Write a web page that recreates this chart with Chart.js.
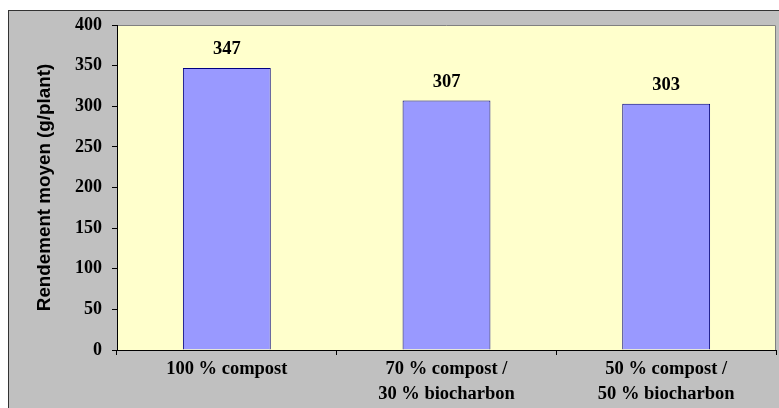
<!DOCTYPE html>
<html>
<head>
<meta charset="utf-8">
<script src="https://cdn.jsdelivr.net/npm/chart.js@4.4.1/dist/chart.umd.min.js"></script>
<style>
  html, body { margin: 0; padding: 0; background: #ffffff; }
  #wrap { width: 779px; height: 408px; }
</style>
</head>
<body>
<div id="wrap"><canvas id="chart" width="779" height="408"></canvas></div>
<script>
// données
const categories = [
	['100 % compost'],
	['70 % compost /', '30 % biocharbon'],
	['50 % compost /', '50 % biocharbon']
];
const rendement = [347, 307, 303];
const yTicks = [0, 50, 100, 150, 200, 250, 300, 350, 400];

const serif = '"Times New Roman", "Liberation Serif", serif';

// fond gris + cadre + bordure haute/droite de la zone de tracé
const framePlugin = {
	id: 'frame',
	beforeDraw(chart) {
		const ctx = chart.ctx;
		const a = chart.chartArea;
		ctx.save();
		ctx.fillStyle = '#ffffff';
		ctx.fillRect(0, 0, chart.width, chart.height);
		ctx.fillStyle = '#c0c0c0';
		ctx.fillRect(8, 10, chart.width - 8, chart.height - 10);
		ctx.strokeStyle = '#333333';
		ctx.lineWidth = 1;
		ctx.strokeRect(8.5, 10.5, chart.width + 10, chart.height + 10);
		ctx.fillStyle = '#ffffcc';
		ctx.fillRect(a.left, a.top, a.right - a.left, a.bottom - a.top);
		ctx.strokeStyle = '#808080';
		ctx.beginPath();
		ctx.moveTo(a.left, a.top + 0.5);
		ctx.lineTo(a.right - 0.5, a.top + 0.5);
		ctx.lineTo(a.right - 0.5, a.bottom);
		ctx.stroke();
		ctx.restore();
	}
};

// valeurs au-dessus des barres
const valueLabels = {
	id: 'valueLabels',
	afterDatasetsDraw(chart) {
		const ctx = chart.ctx;
		const meta = chart.getDatasetMeta(0);
		ctx.save();
		ctx.font = 'bold 18.5px ' + serif;
		ctx.fillStyle = '#000000';
		ctx.textAlign = 'center';
		ctx.textBaseline = 'alphabetic';
		meta.data.forEach((bar, i) => {
			ctx.fillText(String(rendement[i]), bar.x, bar.y - 14);
		});
		ctx.restore();
	}
};

new Chart(document.getElementById('chart'), {
	type: 'bar',
	data: {
		labels: categories,
		datasets: [{
			data: rendement,
			backgroundColor: '#9999ff',
			borderColor: '#000080',
			borderWidth: 1,
			categoryPercentage: 1,
			barPercentage: 0.4
		}]
	},
	options: {
		responsive: false,
		animation: false,
		layout: { padding: { top: 25, right: 3, left: 0, bottom: 0 } },
		plugins: {
			legend: { display: false },
			tooltip: { enabled: false }
		},
		scales: {
			x: {
				grid: {
					display: true,
					drawOnChartArea: false,
					drawTicks: true,
					tickLength: 5,
					color: '#000000',
					offset: true
				},
				border: { display: true, color: '#000000' },
				ticks: {
					color: '#000000',
					font: { family: serif, size: 18.5, weight: 'bold', lineHeight: 1.35 },
					padding: 2,
					maxRotation: 0,
					autoSkip: false
				},
				afterFit(scale) { scale.height = 58; }
			},
			y: {
				min: 0,
				max: 400,
				afterBuildTicks(scale) { scale.ticks = yTicks.map(v => ({ value: v })); },
				grid: {
					display: true,
					drawOnChartArea: false,
					drawTicks: true,
					tickLength: 5,
					color: '#000000'
				},
				border: { display: true, color: '#000000' },
				ticks: {
					color: '#000000',
					font: { family: serif, size: 18, weight: 'bold' },
					padding: 10
				},
				title: {
					display: true,
					text: 'Rendement moyen (g/plant)',
					color: '#000000',
					font: { family: 'Arial, "Liberation Sans", sans-serif', size: 18.8, weight: 'bold' },
					padding: { top: 34, bottom: 0 }
				},
				afterFit(scale) { scale.width = 117; }
			}
		}
	},
	plugins: [framePlugin, valueLabels]
});
</script>
</body>
</html>
